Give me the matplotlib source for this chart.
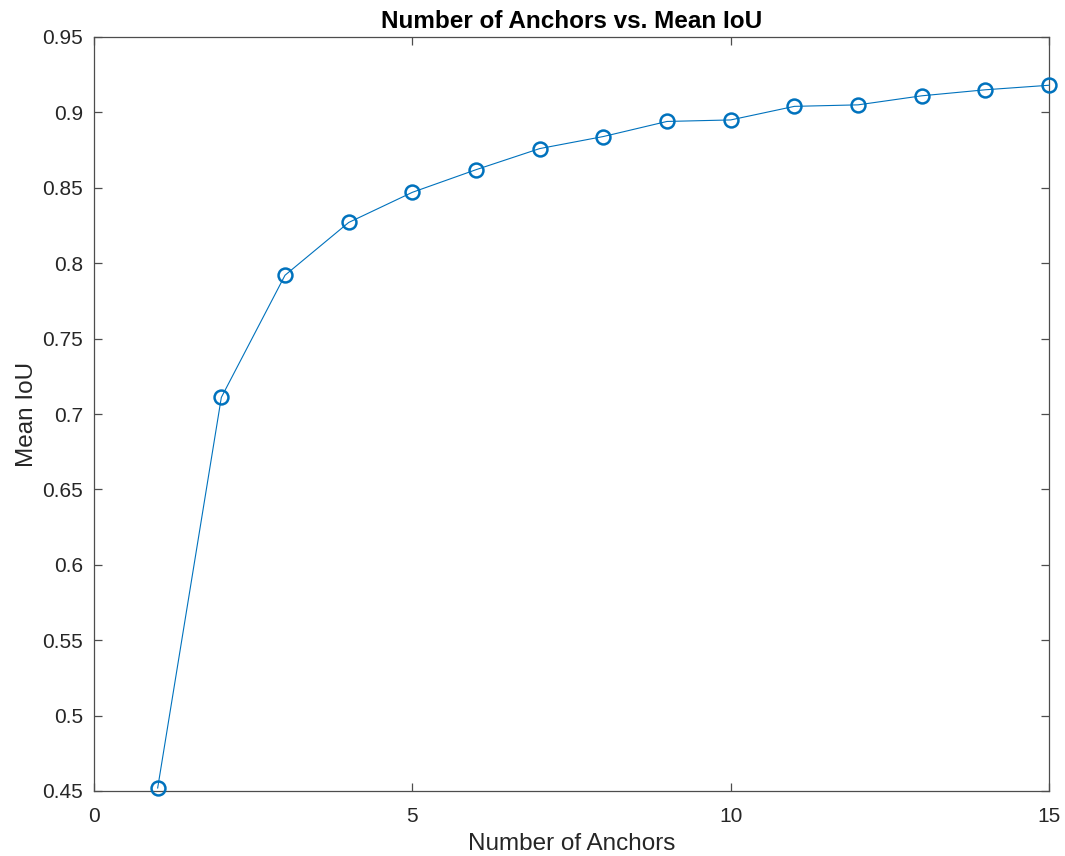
import matplotlib
matplotlib.use("Agg")
import matplotlib.pyplot as plt

num_anchors = [1, 2, 3, 4, 5, 6, 7, 8, 9, 10, 11, 12, 13, 14, 15]
mean_iou = [0.452, 0.711, 0.792, 0.827, 0.847, 0.862, 0.876, 0.884, 0.894,
            0.895, 0.904, 0.905, 0.911, 0.915, 0.918]
x_ticks = [0, 5, 10, 15]
y_ticks = [0.45, 0.5, 0.55, 0.6, 0.65, 0.7, 0.75, 0.8, 0.85, 0.9, 0.95]
y_tick_labels = ["0.45", "0.5", "0.55", "0.6", "0.65", "0.7", "0.75", "0.8", "0.85", "0.9", "0.95"]

plt.rcParams['font.family'] = ['Liberation Sans', 'DejaVu Sans']
fig = plt.figure(figsize=(10.65, 8.56), dpi=100)
ax = fig.add_axes([94/1065, 1-791/856, (1049-94)/1065, (791-37)/856])

color = '#0072BD'
ax.plot(num_anchors, mean_iou, '-', color=color, linewidth=0.8,
        marker='o', markersize=10, markerfacecolor='none',
        markeredgecolor=color, markeredgewidth=1.8, clip_on=False, zorder=3)

ax.set_xlim(0, 15)
ax.set_ylim(0.45, 0.95)
ax.set_xticks(x_ticks)
ax.set_xticklabels([str(t) for t in x_ticks])
ax.set_yticks(y_ticks)
ax.set_yticklabels(y_tick_labels)

axcol = '#262626'
for s in ax.spines.values():
    s.set_color('#4d4d4d')
    s.set_linewidth(0.9)
ax.tick_params(direction='in', top=True, right=True, length=6, width=0.9,
               color='#4d4d4d', labelcolor=axcol, labelsize=15)
ax.tick_params(axis='x', pad=11.5)
ax.tick_params(axis='y', pad=7.7)

ax.set_xlabel('Number of Anchors', fontsize=17.5, color=axcol, labelpad=5.2)
ax.set_ylabel('Mean IoU', fontsize=17.5, color=axcol, labelpad=3.6)
ax.set_title('Number of Anchors vs. Mean IoU', fontsize=17.5, fontweight='bold',
             color='black', pad=6.5)

fig.savefig('out.png', dpi=100, facecolor='white')
